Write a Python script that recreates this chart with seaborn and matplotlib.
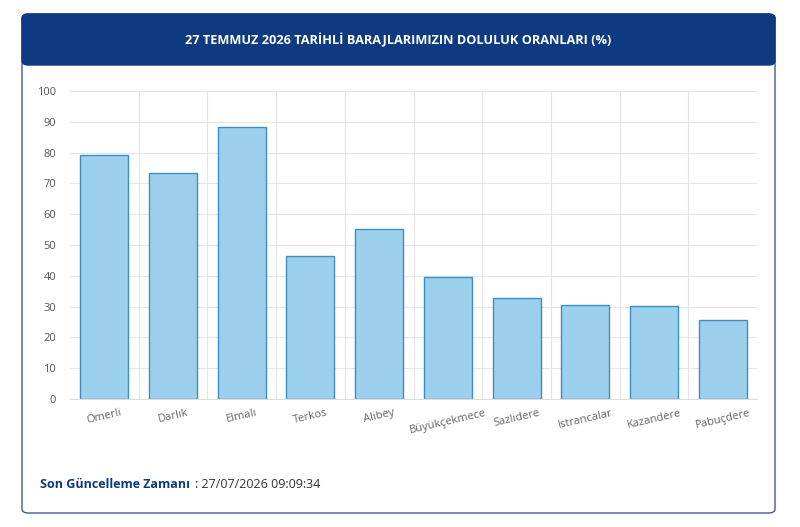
import matplotlib
matplotlib.use('Agg')
import matplotlib.pyplot as plt
import seaborn as sns
from matplotlib.patches import FancyBboxPatch

dams = ['Ömerli', 'Darlık', 'Elmalı', 'Terkos', 'Alibey', 'Büyükçekmece',
        'Sazlıdere', 'Istrancalar', 'Kazandere', 'Pabuçdere']
fill = [79.2, 73.4, 88.3, 46.4, 55.2, 39.6, 32.8, 30.5, 30.2, 25.6]
title = '27 TEMMUZ 2026 TARİHLİ BARAJLARIMIZIN DOLULUK ORANLARI (%)'

sns.set_style('white')
plt.rcParams['font.family'] = ['Open Sans', 'DejaVu Sans']

W, H = 800, 527
fig = plt.figure(figsize=(W / 100, H / 100), dpi=100)

# card
card = FancyBboxPatch((22 / W, 1 - 513 / H), 753 / W, 499 / H,
                      boxstyle='round,pad=0,rounding_size=0.008',
                      transform=fig.transFigure, fc='white', ec='#3c5a9a', lw=1,
                      zorder=-2)
fig.patches.append(card)
header = FancyBboxPatch((22 / W, 1 - 65 / H), 753 / W, 51 / H,
                        boxstyle='round,pad=0,rounding_size=0.008',
                        transform=fig.transFigure, fc='#0e3a82', ec='#0e3a82', lw=1,
                        zorder=-1)
fig.patches.append(header)
fig.text(398 / W, 1 - 40 / H, title, color='white', fontsize=9.2,
         fontweight='bold', ha='center', va='center')

ax = fig.add_axes([70 / W, 1 - 399 / H, 687 / W, 308 / H])
ax.patch.set_alpha(0)
sns.barplot(x=dams, y=fill, ax=ax, color='#9dd0ec', edgecolor='#3a8fc8',
            linewidth=1, width=0.7, saturation=1)
ax.set_ylim(0, 100)
ax.set_yticks(range(0, 101, 10))
ax.set_xlim(-0.5, len(dams) - 0.5)
ax.set_xticks([i + 0.5 for i in range(len(dams) - 1)], minor=True)
ax.grid(True, axis='y', color='#e6e6e6', lw=0.8)
ax.grid(True, axis='x', which='minor', color='#e6e6e6', lw=0.8)
ax.set_axisbelow(True)
for s in ['top', 'right', 'left']:
    ax.spines[s].set_visible(False)
ax.spines['bottom'].set_color('#dddddd')
ax.tick_params(axis='y', labelsize=8, colors='#555555', length=0, pad=10)
ax.tick_params(axis='x', labelsize=8, colors='#666666', length=0, pad=6)
plt.setp(ax.get_xticklabels(), rotation=13)

fig.text(40 / W, 1 - 485 / H, 'Son Güncelleme Zamanı', color='#0e3a82',
         fontsize=9, fontweight='bold', va='center')
fig.text(195 / W, 1 - 485 / H, ': 27/07/2026 09:09:34', color='#333333',
         fontsize=9, va='center')

fig.savefig('out.png', dpi=100)
